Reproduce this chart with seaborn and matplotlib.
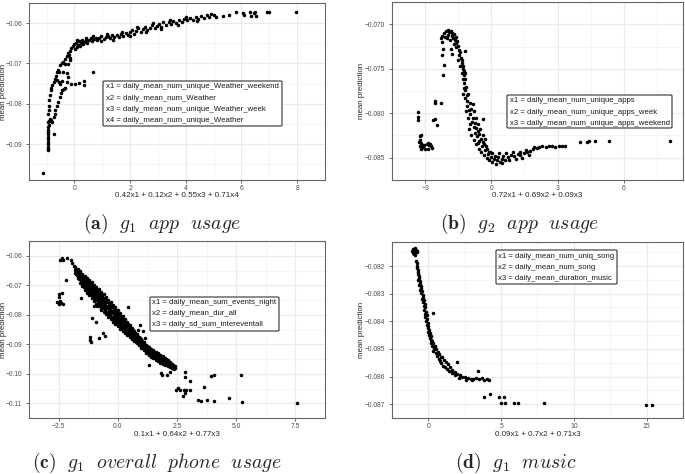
import matplotlib
matplotlib.use("Agg")
import matplotlib.pyplot as plt
import seaborn as sns
import pandas as pd
from matplotlib.patches import FancyBboxPatch

# ---------------- data ----------------
# panel (a): g1 app usage
a_points = [
    (-1.13, -0.0971),
    (-0.96, -0.0915), (-0.95, -0.0911), (-0.96, -0.0906), (-0.95, -0.0900), (-0.94, -0.0894),
    (-0.95, -0.0888), (-0.94, -0.0882), (-0.95, -0.0876), (-0.94, -0.0870), (-0.93, -0.0864),
    (-0.94, -0.0858), (-0.92, -0.0852), (-0.93, -0.0846), (-0.91, -0.0842), (-0.89, -0.0839),
    (-0.86, -0.0837), (-0.84, -0.0840), (-0.80, -0.0845),
    (-0.93, -0.0826), (-0.92, -0.0816), (-0.91, -0.0805), (-0.91, -0.0791), (-0.88, -0.0778),
    (-0.85, -0.0767), (-0.83, -0.0760), (-0.80, -0.0754), (-0.74, -0.0745), (-0.68, -0.0738),
    (-0.65, -0.0730), (-0.63, -0.0722), (-0.58, -0.0715), (-0.51, -0.0705), (-0.45, -0.0700),
    (-0.40, -0.0697), (-0.34, -0.0690), (-0.28, -0.0681), (-0.22, -0.0674), (-0.17, -0.0668),
    (-0.12, -0.0662), (-0.06, -0.0656),
    (-0.63, -0.0742), (-0.57, -0.0746), (-0.50, -0.0750), (-0.45, -0.0743), (-0.57, -0.0722),
    (-0.40, -0.0722), (-0.34, -0.0701), (-0.23, -0.0701), (-0.17, -0.0691), (-0.14, -0.0686),
    (-0.20, -0.0678),
    (-0.74, -0.0874), (-0.74, -0.0833), (-0.71, -0.0825), (-0.68, -0.0816), (-0.64, -0.0806),
    (-0.59, -0.0796), (-0.53, -0.0783), (-0.49, -0.0774), (-0.45, -0.0767), (-0.39, -0.0763),
    (-0.34, -0.0760), (-0.28, -0.0746), (-0.23, -0.0734), (-0.28, -0.0724), (-0.11, -0.0752),
    (0.02, -0.0750), (0.17, -0.0749), (0.36, -0.0744), (0.36, -0.0754), (0.68, -0.0721),
    (0.00, -0.0652), (0.02, -0.0664), (0.06, -0.0648), (0.08, -0.0658), (0.12, -0.0653),
    (0.15, -0.0645), (0.20, -0.0657), (0.24, -0.0649), (0.28, -0.0643), (0.32, -0.0652),
    (0.36, -0.0646), (0.42, -0.0641), (0.46, -0.0648), (0.52, -0.0643), (0.58, -0.0638),
    (0.63, -0.0645), (0.70, -0.0640), (0.76, -0.0636), (0.82, -0.0642), (0.90, -0.0637),
    (0.97, -0.0633), (1.05, -0.0639), (1.12, -0.0634), (1.20, -0.0631), (1.28, -0.0637),
    (1.36, -0.0630), (1.44, -0.0634), (1.52, -0.0629), (1.60, -0.0634), (1.68, -0.0627),
    (1.76, -0.0631), (1.84, -0.0624), (1.92, -0.0630), (2.00, -0.0622), (2.08, -0.0617),
    (2.14, -0.0628), (2.22, -0.0619), (2.30, -0.0613), (2.38, -0.0622), (2.46, -0.0615),
    (2.55, -0.0609), (2.62, -0.0617), (2.70, -0.0611), (2.80, -0.0605), (2.88, -0.0613),
    (2.96, -0.0607), (3.05, -0.0601), (3.12, -0.0609), (3.20, -0.0598), (3.30, -0.0604),
    (3.38, -0.0596), (3.46, -0.0601), (3.55, -0.0594), (3.65, -0.0600), (3.75, -0.0592),
    (3.85, -0.0597), (3.95, -0.0589), (4.05, -0.0593), (4.15, -0.0586), (4.25, -0.0591),
    (4.35, -0.0584), (4.45, -0.0589), (4.55, -0.0582), (4.65, -0.0586), (4.75, -0.0580),
    (4.85, -0.0584), (5.00, -0.0579), (5.10, -0.0585), (5.35, -0.0583), (5.55, -0.0580),
    (5.80, -0.0573), (6.05, -0.0574), (6.10, -0.0580), (6.30, -0.0573), (6.35, -0.0583),
    (6.45, -0.0574), (6.50, -0.0572), (6.52, -0.0582), (6.90, -0.0572), (7.00, -0.0572),
    (7.97, -0.0572),
    (0.10, -0.0641), (0.40, -0.0637), (0.66, -0.0633), (0.94, -0.0644), (1.16, -0.0628),
    (1.40, -0.0641), (1.72, -0.0623), (1.98, -0.0633), (2.26, -0.0610), (2.58, -0.0622),
    (2.84, -0.0600), (3.10, -0.0614), (3.42, -0.0592), (3.72, -0.0604), (4.00, -0.0584),
    (4.40, -0.0594), (4.90, -0.0577),
]

# panel (b): g2 app usage
b_points = [
    (-3.32, -0.0799), (-3.32, -0.0804), (-3.32, -0.0808), (-3.22, -0.0826), (-3.17, -0.0824),
    (-3.25, -0.0830), (-3.19, -0.0833), (-3.27, -0.0832), (-3.22, -0.0837), (-3.19, -0.0840),
    (-3.08, -0.0838), (-3.02, -0.0840), (-2.92, -0.0834), (-2.85, -0.0833), (-2.82, -0.0836),
    (-2.77, -0.0834), (-2.74, -0.0837), (-2.71, -0.0839), (-2.85, -0.0840), (-3.03, -0.0836),
    (-3.12, -0.0836),
    (-2.63, -0.0808), (-2.56, -0.0807), (-2.44, -0.0813), (-2.56, -0.0786), (-2.53, -0.0788),
    (-2.30, -0.0789),
    (-2.21, -0.0728), (-2.24, -0.0734), (-2.15, -0.0746), (-2.18, -0.0757),
    (-2.27, -0.0716), (-2.22, -0.0713), (-2.25, -0.0720), (-2.15, -0.0710), (-2.10, -0.0714),
    (-2.05, -0.0708), (-1.98, -0.0707), (-1.95, -0.0712), (-1.90, -0.0709), (-1.84, -0.0708),
    (-1.80, -0.0713), (-1.76, -0.0710), (-1.72, -0.0715), (-1.69, -0.0711), (-1.65, -0.0718),
    (-1.62, -0.0714), (-1.58, -0.0721), (-1.55, -0.0719), (-1.60, -0.0726), (-1.52, -0.0725),
    (-1.84, -0.0728), (-1.77, -0.0733), (-1.20, -0.0730), (-1.48, -0.0729), (-1.45, -0.0735),
    (-1.41, -0.0731), (-1.38, -0.0738), (-1.35, -0.0743), (-1.33, -0.0740), (-1.30, -0.0747),
    (-1.29, -0.0750), (-1.26, -0.0753), (-1.23, -0.0757), (-1.20, -0.0755), (-1.19, -0.0762),
    (-1.22, -0.0766), (-1.25, -0.0772), (-1.19, -0.0774), (-1.15, -0.0770), (-1.12, -0.0780),
    (-1.18, -0.0783), (-1.09, -0.0786), (-1.05, -0.0778), (-0.98, -0.0789), (-1.10, -0.0792),
    (-1.02, -0.0796), (-0.90, -0.0795), (-0.95, -0.0801), (-1.05, -0.0805), (-0.83, -0.0805),
    (-0.88, -0.0810), (-0.95, -0.0812), (-0.76, -0.0811), (-0.80, -0.0816), (-0.70, -0.0817),
    (-0.75, -0.0822), (-0.62, -0.0820), (-0.55, -0.0823), (-0.65, -0.0826), (-0.47, -0.0829),
    (-0.56, -0.0831), (-0.40, -0.0832), (-0.33, -0.0835), (-0.42, -0.0837), (-0.25, -0.0837),
    (-0.19, -0.0840), (-0.30, -0.0841), (-0.10, -0.0843), (-0.04, -0.0844), (-0.15, -0.0846),
    (0.05, -0.0845), (0.00, -0.0849), (0.10, -0.0851), (0.17, -0.0848), (0.25, -0.0853),
    (0.30, -0.0849), (0.38, -0.0855), (0.46, -0.0851), (0.50, -0.0856), (0.55, -0.0848),
    (0.62, -0.0853), (0.75, -0.0849), (0.82, -0.0852), (0.90, -0.0847), (1.03, -0.0848),
    (1.10, -0.0851), (1.20, -0.0846), (1.32, -0.0847), (1.40, -0.0850), (1.50, -0.0845),
    (1.61, -0.0844), (1.70, -0.0847), (1.75, -0.0842), (1.89, -0.0840), (1.95, -0.0838),
    (2.05, -0.0839), (2.18, -0.0838), (2.30, -0.0837), (2.47, -0.0838), (2.60, -0.0837),
    (2.76, -0.0837), (2.90, -0.0838), (3.05, -0.0837), (3.20, -0.0837), (3.33, -0.0837),
    (-0.37, -0.0806),
    (-0.85, -0.0790), (-0.78, -0.0798), (-0.70, -0.0805), (-0.60, -0.0812), (-0.50, -0.0818),
    (-0.38, -0.0824), (-0.28, -0.0829), (-0.90, -0.0825), (-0.80, -0.0830), (-0.70, -0.0835),
    (-0.55, -0.0840), (-0.45, -0.0844), (-0.35, -0.0847), (-0.20, -0.0850), (-0.10, -0.0853),
    (0.05, -0.0855), (0.20, -0.0857), (-1.00, -0.0818),
    (-2.00, -0.0716), (-1.88, -0.0718), (-1.70, -0.0722), (-1.50, -0.0740), (-1.42, -0.0747),
    (-1.35, -0.0755), (-1.30, -0.0762), (-1.28, -0.0778), (-1.15, -0.0798), (-0.60, -0.0833),
    (0.35, -0.0845), (0.65, -0.0845), (1.00, -0.0844), (1.30, -0.0843), (1.55, -0.0841),
    (4.02, -0.0832), (4.33, -0.0832), (4.40, -0.0831), (4.69, -0.0831), (5.34, -0.0831),
    (8.11, -0.0831),
]

# panel (c): g1 overall phone usage -- main band
c_band = [
    (-1.80, -0.0638), (-1.80, -0.0648), (-1.80, -0.0658), (-1.75, -0.0647), (-1.75, -0.0661),
    (-1.70, -0.0645), (-1.70, -0.0660), (-1.70, -0.0675), (-1.65, -0.0657), (-1.65, -0.0675),
    (-1.60, -0.0653), (-1.60, -0.0672), (-1.60, -0.0691), (-1.55, -0.0667), (-1.55, -0.0689),
    (-1.50, -0.0662), (-1.50, -0.0683), (-1.50, -0.0704), (-1.45, -0.0676), (-1.45, -0.0700),
    (-1.40, -0.0670), (-1.40, -0.0693), (-1.40, -0.0716), (-1.35, -0.0684), (-1.35, -0.0710),
    (-1.30, -0.0676), (-1.30, -0.0701), (-1.30, -0.0726), (-1.25, -0.0692), (-1.25, -0.0718),
    (-1.20, -0.0682), (-1.20, -0.0708), (-1.20, -0.0734), (-1.15, -0.0698), (-1.15, -0.0726),
    (-1.10, -0.0690), (-1.10, -0.0716), (-1.10, -0.0742), (-1.05, -0.0707), (-1.05, -0.0735),
    (-1.00, -0.0698), (-1.00, -0.0725), (-1.00, -0.0752), (-0.95, -0.0715), (-0.95, -0.0744),
    (-0.90, -0.0706), (-0.90, -0.0734), (-0.90, -0.0762), (-0.85, -0.0724), (-0.85, -0.0754),
    (-0.80, -0.0714), (-0.80, -0.0743), (-0.80, -0.0772), (-0.75, -0.0732), (-0.75, -0.0763),
    (-0.70, -0.0723), (-0.70, -0.0752), (-0.70, -0.0781), (-0.65, -0.0741), (-0.65, -0.0771),
    (-0.60, -0.0731), (-0.60, -0.0760), (-0.60, -0.0789), (-0.55, -0.0749), (-0.55, -0.0780),
    (-0.50, -0.0740), (-0.50, -0.0769), (-0.50, -0.0798), (-0.45, -0.0758), (-0.45, -0.0789),
    (-0.40, -0.0749), (-0.40, -0.0778), (-0.40, -0.0807), (-0.35, -0.0767), (-0.35, -0.0797),
    (-0.30, -0.0757), (-0.30, -0.0786), (-0.30, -0.0815), (-0.25, -0.0775), (-0.25, -0.0806),
    (-0.20, -0.0766), (-0.20, -0.0795), (-0.20, -0.0824), (-0.15, -0.0784), (-0.15, -0.0814),
    (-0.10, -0.0775), (-0.10, -0.0803), (-0.10, -0.0831), (-0.05, -0.0793), (-0.05, -0.0822),
    (0.00, -0.0785), (0.00, -0.0812), (0.00, -0.0839), (0.05, -0.0802), (0.05, -0.0831),
    (0.10, -0.0795), (0.10, -0.0821), (0.10, -0.0847), (0.15, -0.0811), (0.15, -0.0839),
    (0.20, -0.0803), (0.20, -0.0829), (0.20, -0.0855), (0.25, -0.0820), (0.25, -0.0847),
    (0.30, -0.0814), (0.30, -0.0838), (0.30, -0.0862), (0.35, -0.0831), (0.35, -0.0855),
    (0.40, -0.0825), (0.40, -0.0847), (0.40, -0.0869), (0.45, -0.0840), (0.45, -0.0862),
    (0.50, -0.0835), (0.50, -0.0855), (0.50, -0.0875), (0.55, -0.0850), (0.55, -0.0870),
    (0.60, -0.0845), (0.60, -0.0864), (0.60, -0.0883), (0.65, -0.0859), (0.65, -0.0877),
    (0.70, -0.0855), (0.70, -0.0872), (0.70, -0.0889), (0.75, -0.0868), (0.75, -0.0885),
    (0.80, -0.0865), (0.80, -0.0881), (0.80, -0.0897), (0.85, -0.0877), (0.85, -0.0893),
    (0.90, -0.0874), (0.90, -0.0889), (0.90, -0.0904), (0.95, -0.0886), (0.95, -0.0901),
    (1.00, -0.0884), (1.00, -0.0898), (1.00, -0.0912), (1.05, -0.0895), (1.05, -0.0909),
    (1.10, -0.0892), (1.10, -0.0906), (1.10, -0.0920), (1.15, -0.0903), (1.15, -0.0918),
    (1.20, -0.0901), (1.20, -0.0915), (1.20, -0.0929), (1.25, -0.0912), (1.25, -0.0926),
    (1.30, -0.0909), (1.30, -0.0923), (1.30, -0.0937), (1.35, -0.0919), (1.35, -0.0933),
    (1.40, -0.0915), (1.40, -0.0929), (1.40, -0.0943), (1.45, -0.0924), (1.45, -0.0939),
    (1.50, -0.0920), (1.50, -0.0934), (1.50, -0.0948), (1.55, -0.0929), (1.55, -0.0944),
    (1.60, -0.0925), (1.60, -0.0939), (1.60, -0.0953), (1.65, -0.0934), (1.65, -0.0949),
    (1.70, -0.0930), (1.70, -0.0944), (1.70, -0.0958), (1.75, -0.0940), (1.75, -0.0954),
    (1.80, -0.0936), (1.80, -0.0949), (1.80, -0.0962), (1.85, -0.0945), (1.85, -0.0958),
    (1.90, -0.0941), (1.90, -0.0954), (1.90, -0.0967), (1.95, -0.0950), (1.95, -0.0962),
    (2.00, -0.0946), (2.00, -0.0958), (2.00, -0.0970), (2.05, -0.0955), (2.05, -0.0966),
    (2.10, -0.0952), (2.10, -0.0963), (2.10, -0.0974), (2.15, -0.0961), (2.15, -0.0970),
    (2.20, -0.0959), (2.20, -0.0968), (2.20, -0.0977), (2.25, -0.0967), (2.25, -0.0975),
    (2.30, -0.0966), (2.30, -0.0974), (2.30, -0.0982), (2.35, -0.0974), (2.35, -0.0979),
    (2.40, -0.0973), (2.40, -0.0979),
]
# panel (c): more band points between the rows above
c_band_fill = [
    (-1.775, -0.0644), (-1.775, -0.0653), (-1.725, -0.0655), (-1.725, -0.0664),
    (-1.675, -0.0652), (-1.675, -0.0667), (-1.625, -0.0665), (-1.625, -0.0680),
    (-1.575, -0.0662), (-1.575, -0.0679), (-1.525, -0.0676), (-1.525, -0.0693),
    (-1.475, -0.0671), (-1.475, -0.0691), (-1.425, -0.0686), (-1.425, -0.0706),
    (-1.375, -0.0679), (-1.375, -0.0700), (-1.325, -0.0694), (-1.325, -0.0715),
    (-1.275, -0.0686), (-1.275, -0.0709), (-1.225, -0.0700), (-1.225, -0.0723),
    (-1.175, -0.0692), (-1.175, -0.0716), (-1.125, -0.0708), (-1.125, -0.0732),
    (-1.075, -0.0699), (-1.075, -0.0724), (-1.025, -0.0717), (-1.025, -0.0742),
    (-0.975, -0.0708), (-0.975, -0.0733), (-0.925, -0.0726), (-0.925, -0.0751),
    (-0.875, -0.0716), (-0.875, -0.0743), (-0.825, -0.0734), (-0.825, -0.0761),
    (-0.775, -0.0725), (-0.775, -0.0752), (-0.725, -0.0743), (-0.725, -0.0770),
    (-0.675, -0.0734), (-0.675, -0.0761), (-0.625, -0.0751), (-0.625, -0.0778),
    (-0.575, -0.0742), (-0.575, -0.0769), (-0.525, -0.0760), (-0.525, -0.0787),
    (-0.475, -0.0751), (-0.475, -0.0778), (-0.425, -0.0769), (-0.425, -0.0796),
    (-0.375, -0.0760), (-0.375, -0.0787), (-0.325, -0.0777), (-0.325, -0.0804),
    (-0.275, -0.0768), (-0.275, -0.0795), (-0.225, -0.0786), (-0.225, -0.0813),
    (-0.175, -0.0777), (-0.175, -0.0804), (-0.125, -0.0794), (-0.125, -0.0821),
    (-0.075, -0.0785), (-0.075, -0.0812), (-0.025, -0.0803), (-0.025, -0.0830),
    (0.025, -0.0795), (0.025, -0.0820), (0.075, -0.0813), (0.075, -0.0838),
    (0.125, -0.0804), (0.125, -0.0829), (0.175, -0.0821), (0.175, -0.0846),
    (0.225, -0.0813), (0.225, -0.0837), (0.275, -0.0830), (0.275, -0.0854),
    (0.325, -0.0823), (0.325, -0.0846), (0.375, -0.0839), (0.375, -0.0862),
    (0.425, -0.0833), (0.425, -0.0854), (0.475, -0.0848), (0.475, -0.0869),
    (0.525, -0.0843), (0.525, -0.0862), (0.575, -0.0857), (0.575, -0.0876),
    (0.625, -0.0853), (0.625, -0.0870), (0.675, -0.0866), (0.675, -0.0883),
    (0.725, -0.0862), (0.725, -0.0878), (0.775, -0.0875), (0.775, -0.0891),
    (0.825, -0.0872), (0.825, -0.0887), (0.875, -0.0883), (0.875, -0.0898),
    (0.925, -0.0880), (0.925, -0.0895), (0.975, -0.0892), (0.975, -0.0907),
    (1.025, -0.0890), (1.025, -0.0903), (1.075, -0.0901), (1.075, -0.0914),
    (1.125, -0.0898), (1.125, -0.0911), (1.175, -0.0910), (1.175, -0.0923),
    (1.225, -0.0907), (1.225, -0.0920), (1.275, -0.0918), (1.275, -0.0931),
    (1.325, -0.0915), (1.325, -0.0928), (1.375, -0.0925), (1.375, -0.0938),
    (1.425, -0.0920), (1.425, -0.0933), (1.475, -0.0930), (1.475, -0.0943),
    (1.525, -0.0925), (1.525, -0.0938), (1.575, -0.0935), (1.575, -0.0948),
    (1.625, -0.0930), (1.625, -0.0943), (1.675, -0.0940), (1.675, -0.0953),
    (1.725, -0.0935), (1.725, -0.0948), (1.775, -0.0945), (1.775, -0.0958),
    (1.825, -0.0941), (1.825, -0.0953), (1.875, -0.0950), (1.875, -0.0962),
    (1.925, -0.0946), (1.925, -0.0958), (1.975, -0.0954), (1.975, -0.0966),
    (2.025, -0.0951), (2.025, -0.0962), (2.075, -0.0959), (2.075, -0.0970),
    (2.125, -0.0956), (2.125, -0.0967), (2.175, -0.0964), (2.175, -0.0975),
    (2.225, -0.0963), (2.225, -0.0972), (2.275, -0.0971), (2.275, -0.0980),
    (2.325, -0.0970), (2.325, -0.0977), (2.375, -0.0976), (2.375, -0.0983),
]
# panel (c): scattered points off the band
c_scatter = [
    (-2.44, -0.0613), (-2.37, -0.0608), (-2.31, -0.0613), (-2.13, -0.0606), (-1.98, -0.0613),
    (-1.94, -0.0626), (-1.84, -0.0636), (-2.19, -0.0682),
    (-2.50, -0.0728), (-2.50, -0.0740), (-2.56, -0.0758), (-2.50, -0.0765), (-2.44, -0.0755),
    (-2.37, -0.0725), (-2.31, -0.0765), (-2.41, -0.0760),
    (-1.56, -0.0743), (0.44, -0.0775), (-1.00, -0.0770), (-1.09, -0.0811), (-0.94, -0.0826),
    (-1.19, -0.0876), (-1.19, -0.0887), (-1.13, -0.0892), (-0.81, -0.0879), (-0.56, -0.0871),
    (-0.63, -0.0861), (-0.88, -0.0770), (-0.69, -0.0785),
    (0.81, -0.0871), (1.00, -0.0881), (1.13, -0.0879), (0.87, -0.0851), (1.06, -0.0856),
    (0.94, -0.0836),
    (1.31, -0.0971), (1.81, -0.0998), (1.87, -0.1003), (2.06, -0.1003), (2.19, -0.0993),
    (2.31, -0.0981), (2.85, -0.0995), (2.85, -0.1011), (3.06, -0.1025), (2.44, -0.1054),
    (2.56, -0.1049), (2.63, -0.1056), (2.81, -0.1054), (2.90, -0.1054), (3.03, -0.1054),
    (2.75, -0.1074), (2.85, -0.1064), (3.38, -0.1089), (3.50, -0.1092), (3.75, -0.1089),
    (4.06, -0.1091), (3.65, -0.1045), (3.94, -0.1008), (4.06, -0.1003),
    (4.69, -0.1081), (5.19, -0.1003), (5.25, -0.1097), (7.56, -0.1099),
]

# panel (d): g1 music
d_points = [
    (-1.06, -0.08140), (-0.98, -0.08138), (-0.90, -0.08141), (-0.82, -0.08143), (-1.02, -0.08148),
    (-0.94, -0.08150), (-0.86, -0.08147), (-0.97, -0.08155), (-0.89, -0.08153), (-0.80, -0.08150),
    (-1.05, -0.08152), (-0.93, -0.08144), (-1.12, -0.08146), (-0.78, -0.08146), (-0.95, -0.08135),
    (-0.95, -0.08160),
    (-0.82, -0.08180), (-0.78, -0.08190), (-0.80, -0.08200), (-0.76, -0.08208), (-0.74, -0.08215),
    (-0.70, -0.08222), (-0.72, -0.08230), (-0.66, -0.08236), (-0.62, -0.08244), (-0.68, -0.08250),
    (-0.60, -0.08255), (-0.55, -0.08262), (-0.62, -0.08268), (-0.52, -0.08272), (-0.48, -0.08280),
    (-0.56, -0.08285), (-0.42, -0.08290), (-0.50, -0.08298), (-0.40, -0.08305), (-0.35, -0.08312),
    (-0.45, -0.08318), (-0.30, -0.08322), (-0.38, -0.08330), (-0.25, -0.08338), (-0.32, -0.08345),
    (-0.20, -0.08350), (-0.28, -0.08358), (-0.18, -0.08365), (-0.24, -0.08372), (-0.12, -0.08378),
    (-0.20, -0.08385), (-0.08, -0.08390), (-0.15, -0.08398), (-0.05, -0.08405), (-0.10, -0.08412),
    (0.00, -0.08418), (-0.05, -0.08425), (0.05, -0.08430), (0.00, -0.08438), (0.10, -0.08442),
    (0.05, -0.08450), (0.15, -0.08455), (0.10, -0.08462), (0.20, -0.08466), (0.25, -0.08472),
    (0.15, -0.08478), (0.35, -0.08480), (0.28, -0.08488), (0.45, -0.08490), (0.40, -0.08498),
    (0.55, -0.08502), (0.35, -0.08508), (0.65, -0.08510), (0.50, -0.08515), (0.75, -0.08520),
    (0.60, -0.08525), (0.85, -0.08528), (0.70, -0.08535), (0.95, -0.08530), (1.05, -0.08540),
    (0.80, -0.08545), (1.20, -0.08548), (0.90, -0.08552), (1.00, -0.08560), (1.35, -0.08555),
    (1.15, -0.08565), (1.50, -0.08565), (1.30, -0.08572), (1.65, -0.08575), (1.45, -0.08580),
    (1.80, -0.08582), (1.60, -0.08588), (2.00, -0.08590), (1.85, -0.08596), (2.15, -0.08595),
    (2.30, -0.08600), (2.10, -0.08605), (2.50, -0.08602), (2.70, -0.08606), (2.90, -0.08608),
    (2.60, -0.08612), (3.10, -0.08610), (3.30, -0.08607), (3.00, -0.08614), (3.50, -0.08610),
    (3.70, -0.08606), (3.85, -0.08612), (4.05, -0.08608), (4.20, -0.08612),
    (0.29, -0.08371), (3.38, -0.08579), (1.98, -0.08546), (3.79, -0.08673), (4.24, -0.08664),
    (4.86, -0.08673), (5.17, -0.08673), (4.97, -0.08694), (5.28, -0.08694), (5.91, -0.08694),
    (6.14, -0.08694), (7.93, -0.08694), (14.94, -0.08702), (15.35, -0.08702),
]

# axis ticks / labels
a_xticks = [0, 2, 4, 6, 8]
a_xticklabels = ["0", "2", "4", "6", "8"]
a_yticks = [-0.09, -0.08, -0.07, -0.06]
a_yticklabels = ["\u22120.09", "\u22120.08", "\u22120.07", "\u22120.06"]
b_xticks = [-3, 0, 3, 6]
b_xticklabels = ["\u22123", "0", "3", "6"]
b_yticks = [-0.085, -0.080, -0.075, -0.070]
b_yticklabels = ["\u22120.085", "\u22120.080", "\u22120.075", "\u22120.070"]
c_xticks = [-2.5, 0.0, 2.5, 5.0, 7.5]
c_xticklabels = ["\u22122.5", "0.0", "2.5", "5.0", "7.5"]
c_yticks = [-0.11, -0.10, -0.09, -0.08, -0.07, -0.06]
c_yticklabels = ["\u22120.11", "\u22120.10", "\u22120.09", "\u22120.08", "\u22120.07", "\u22120.06"]
d_xticks = [0, 5, 10, 15]
d_xticklabels = ["0", "5", "10", "15"]
d_yticks = [-0.087, -0.086, -0.085, -0.084, -0.083, -0.082]
d_yticklabels = ["\u22120.087", "\u22120.086", "\u22120.085", "\u22120.084", "\u22120.083", "\u22120.082"]

a_xlabel = "0.42x1 + 0.12x2 + 0.55x3 + 0.71x4"
b_xlabel = "0.72x1 + 0.69x2 + 0.09x3"
c_xlabel = "0.1x1 + 0.64x2 + 0.77x3"
d_xlabel = "0.09x1 + 0.7x2 + 0.71x3"
ylabel = "mean prediction"

a_legend = ["x1 = daily_mean_num_unique_Weather_weekend", "x2 = daily_mean_num_Weather",
            "x3 = daily_mean_num_unique_Weather_week", "x4 = daily_mean_num_unique_Weather"]
b_legend = ["x1 = daily_mean_num_unique_apps", "x2 = daily_mean_num_unique_apps_week",
            "x3 = daily_mean_num_unique_apps_weekend"]
c_legend = ["x1 = daily_mean_sum_events_night", "x2 = daily_mean_dur_all",
            "x3 = daily_sd_sum_intereventall"]
d_legend = ["x1 = daily_mean_num_uniq_song", "x2 = daily_mean_num_song",
            "x3 = daily_mean_duration_music"]

captions = [r"$\mathbf{(a)}\ \ g_1\ \ app\ \ usage$", r"$\mathbf{(b)}\ \ g_2\ \ app\ \ usage$",
            r"$\mathbf{(c)}\ \ g_1\ \ overall\ \ phone\ \ usage$", r"$\mathbf{(d)}\ \ g_1\ \ music$"]

# ---------------- figure ----------------
sns.set_theme(style="white")
plt.rcParams["font.family"] = ["Liberation Sans", "DejaVu Sans"]
plt.rcParams["mathtext.fontset"] = "cm"

W, H = 685, 474
fig = plt.figure(figsize=(W / 100, H / 100), dpi=100)
fig.patch.set_facecolor("white")


def px_axes(l, t, r, b):
    return fig.add_axes([l / W, 1 - b / H, (r - l) / W, (b - t) / H])


def draw_panel(box, pts, xlim, ylim, xt, xtl, yt, ytl, xlabel, legend, leg_box, leg_lines,
               caption, cap_xy, xlab_y, ylab_x):
    l, t, r, b = box
    ax = px_axes(l, t, r, b)
    df = pd.DataFrame(pts, columns=["x", "y"])
    sns.scatterplot(data=df, x="x", y="y", ax=ax, color="black", s=6.5, linewidth=0)
    ax.set_xlim(*xlim)
    ax.set_ylim(*ylim)
    ax.set_xticks(xt)
    ax.set_xticklabels(xtl)
    ax.set_yticks(yt)
    ax.set_yticklabels(ytl)
    xm = [(xt[i] + xt[i + 1]) / 2 for i in range(len(xt) - 1)]
    dx = xt[1] - xt[0]
    xm = [xt[0] - dx / 2] + xm + [xt[-1] + dx / 2]
    ym = [(yt[i] + yt[i + 1]) / 2 for i in range(len(yt) - 1)]
    dy = yt[1] - yt[0]
    ym = [yt[0] - dy / 2] + ym + [yt[-1] + dy / 2]
    ax.set_xticks(xm, minor=True)
    ax.set_yticks(ym, minor=True)
    ax.grid(which="major", color="#EBEBEB", linewidth=0.9)
    ax.grid(which="minor", color="#F2F2F2", linewidth=0.5)
    ax.set_axisbelow(True)
    for s in ax.spines.values():
        s.set_color("#666666")
        s.set_linewidth(0.8)
    ax.tick_params(axis="x", which="major", length=2.2, width=0.5, color="#333333", labelsize=4.9,
                   labelcolor="#4D4D4D", pad=1.4, bottom=True)
    ax.tick_params(axis="y", which="major", length=2.2, width=0.5, color="#333333", labelsize=4.8,
                   labelcolor="#4D4D4D", pad=2.6, left=True)
    ax.tick_params(which="minor", length=0)
    ax.set_xlabel("")
    ax.set_ylabel("")
    fig.text(((l + r) / 2) / W, 1 - xlab_y / H, xlabel, ha="center", va="center", fontsize=5.8)
    fig.text(ylab_x / W, 1 - ((t + b) / 2) / H, ylabel, ha="center", va="center", rotation=90,
             fontsize=5.7)
    # legend box
    bl, bt, br, bb = leg_box
    patch = FancyBboxPatch((bl / W, 1 - bb / H), (br - bl) / W, (bb - bt) / H,
                           boxstyle="round,pad=0,rounding_size=0.002", transform=fig.transFigure,
                           facecolor="white", edgecolor="#333333", linewidth=0.8, zorder=5)
    fig.add_artist(patch)
    for txt, yy in zip(legend, leg_lines):
        fig.text((bl + 2.5) / W, 1 - yy / H, txt, ha="left", va="center", fontsize=5.6,
                 color="#1a1a1a", zorder=6)
    fig.text(cap_xy[0] / W, 1 - cap_xy[1] / H, caption, ha="center", va="baseline", fontsize=14.2)
    return ax


draw_panel((29, 3, 325, 180), a_points, (-1.63, 8.47), (-0.0989, -0.0552),
           a_xticks, a_xticklabels, a_yticks, a_yticklabels, a_xlabel, a_legend,
           (103, 81, 282, 126), [87, 98.5, 109.7, 121], captions[0], (162, 229), 195.5, 3.4)
draw_panel((392, 2, 683, 180), b_points, (-3.89, 8.68), (-0.08636, -0.06985),
           b_xticks, b_xticklabels, b_yticks, b_yticklabels, b_xlabel, b_legend,
           (507, 95, 672, 128), [100.7, 112, 123.3], captions[1], (520, 229), 195.5, 361.5)
draw_panel((29, 241, 325, 418), c_band + c_band_fill + c_scatter, (-3.04, 8.06), (-0.1119, -0.0581),
           c_xticks, c_xticklabels, c_yticks, c_yticklabels, c_xlabel, c_legend,
           (150, 297, 279, 331), [302.3, 313.7, 325], captions[2], (157, 468), 434.5, 3.4)
draw_panel((392, 242, 683, 418), d_points, (-1.96, 16.07), (-0.08725, -0.08113),
           d_xticks, d_xticklabels, d_yticks, d_yticklabels, d_xlabel, d_legend,
           (496, 250, 617, 284), [256, 267.3, 278.3], captions[3], (516, 468), 434.5, 361.5)

fig.savefig("out.png", dpi=100, facecolor="white")
